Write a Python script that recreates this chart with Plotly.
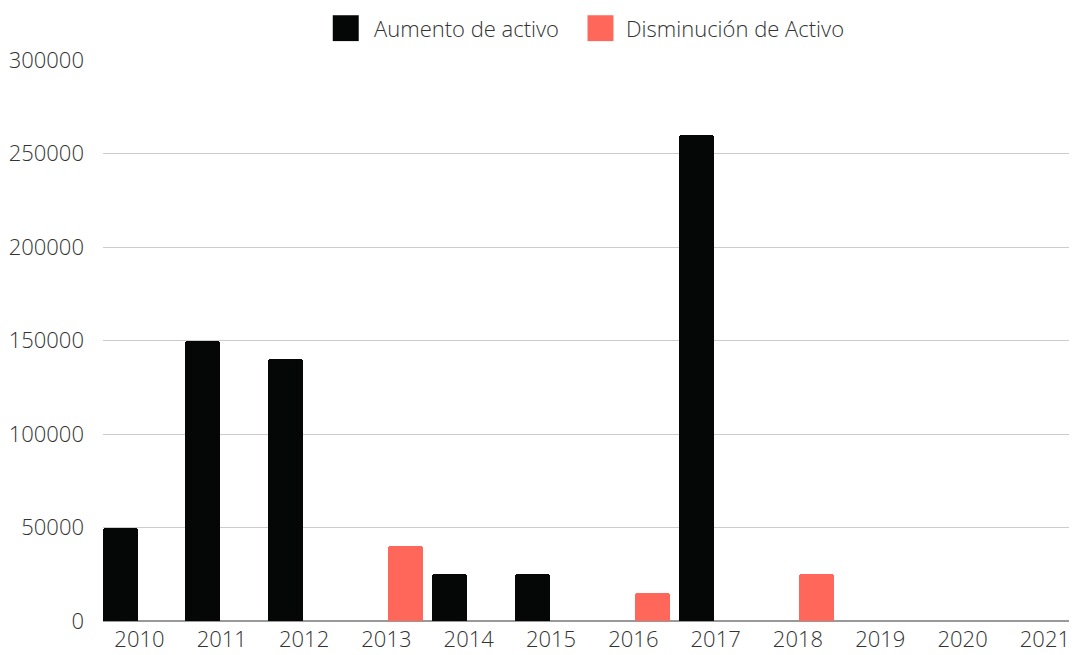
import plotly.graph_objects as go

years = [2010, 2011, 2012, 2013, 2014, 2015, 2016, 2017, 2018, 2019, 2020, 2021]
year_labels = [str(y) for y in years]
aumento = [50000, 150000, 140000, 0, 25000, 25000, 0, 260000, 0, 0, 0, 0]
disminucion = [0, 0, 0, 40000, 0, 0, 15000, 0, 25000, 0, 0, 0]
series_names = ["Aumento de activo", "Disminución de Activo"]
colors = ["#050706", "#FF675A"]
y_ticks = [0, 50000, 100000, 150000, 200000, 250000, 300000]

FONT = "Open Sans"
TXT = "#333333"

W, H = 1072, 655
DY = 2  # small vertical correction
# plot area in page pixel coords
PL, PR, PT, PB = 103, 1070, 58 + DY, 622 + DY
L, T = PL, PT
R, B = W - PR, H - PB
pw, ph = PR - PL, PB - PT
unit = 82.4  # px per category

def px_x(p):
    return (p - PL) / pw

def px_y(p):
    return (PB - (p + DY)) / ph

fig = go.Figure()
bw = 35 / unit
fig.add_trace(go.Bar(x=years, y=aumento, name=series_names[0], width=bw,
                     offset=-36.5 / unit, marker=dict(color=colors[0], cornerradius=3,
                     line=dict(width=0)), showlegend=False))
fig.add_trace(go.Bar(x=years, y=disminucion, name=series_names[1], width=bw,
                     offset=1.3 / unit, marker=dict(color=colors[1], cornerradius=3,
                     line=dict(width=0)), showlegend=False))

x0 = years[0] - 36.5 / unit
x1 = years[0] + (PR - 139.5) / unit

shapes = []
annotations = []
leg = [(333, 372), (588, 625)]
for (sq, tx), name, c in zip(leg, series_names, colors):
    shapes.append(dict(type="rect", xref="paper", yref="paper",
                       x0=px_x(sq), x1=px_x(sq + 26), y0=px_y(39), y1=px_y(13),
                       fillcolor=c, line=dict(width=0)))
    annotations.append(dict(xref="paper", yref="paper", x=px_x(tx), y=px_y(26),
                            xanchor="left", yanchor="middle", text=name, showarrow=False,
                            font=dict(family=FONT, size=22, color=TXT, weight=300)))

fig.update_layout(
    width=W, height=H,
    margin=dict(l=L, r=R, t=T, b=B, pad=0),
    paper_bgcolor="white", plot_bgcolor="white",
    barmode="overlay",
    bargap=0,
    showlegend=False,
    font=dict(family=FONT, size=22, color=TXT, weight=300),
    xaxis=dict(range=[x0, x1], tickvals=years, ticktext=year_labels, showgrid=False,
               zeroline=False, showline=False, ticks="", tickfont=dict(size=22, weight=300),
               ticklabelstandoff=3, fixedrange=True),
    yaxis=dict(range=[0, 300000], tickvals=y_ticks, ticktext=[str(v) for v in y_ticks],
               showgrid=True, gridcolor="#CCCCCC", gridwidth=1, zeroline=True,
               zerolinecolor="#999999", zerolinewidth=1.5, ticks="", ticklabelstandoff=18,
               tickfont=dict(size=22, weight=300), fixedrange=True),
    shapes=shapes, annotations=annotations,
)

fig.write_html("out.html", config={"displayModeBar": False},
               post_script="document.body.style.margin='0';document.body.style.overflow='hidden';")
